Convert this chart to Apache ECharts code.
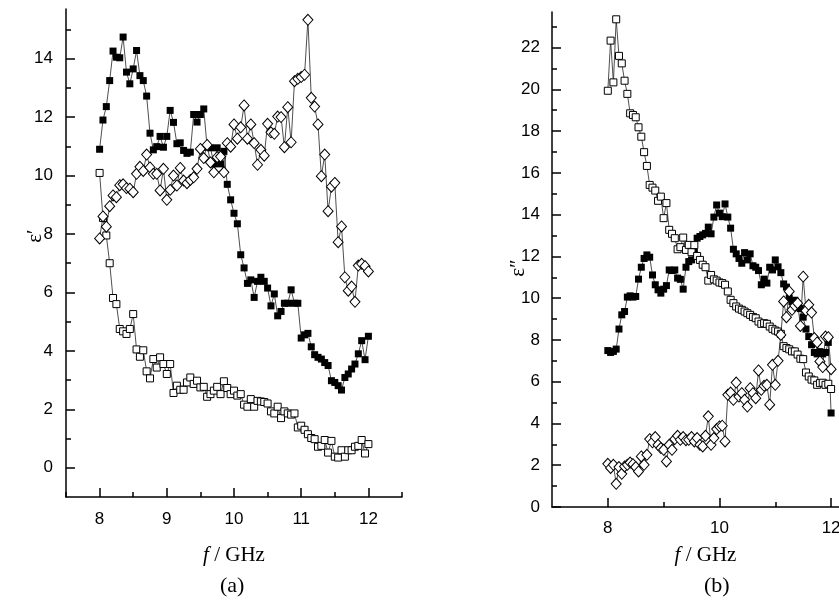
<!DOCTYPE html>
<html>
<head>
<meta charset="utf-8">
<script src="https://cdn.jsdelivr.net/npm/echarts@6/dist/echarts.min.js"></script>
<style>
  html, body { margin: 0; padding: 0; background: #fff; }
  #chart { width: 839px; height: 605px; }
</style>
</head>
<body>
<div id="chart"></div>
<script>
// frequency points (GHz)
const freq = [
  8.00, 8.05, 8.10, 8.15, 8.20, 8.25, 8.30, 8.35, 8.40, 8.45,
  8.50, 8.55, 8.60, 8.65, 8.70, 8.75, 8.80, 8.85, 8.90, 8.95,
  9.00, 9.05, 9.10, 9.15, 9.20, 9.25, 9.30, 9.35, 9.40, 9.45,
  9.50, 9.55, 9.60, 9.65, 9.70, 9.75, 9.80, 9.85, 9.90, 9.95,
  10.00, 10.05, 10.10, 10.15, 10.20, 10.25, 10.30, 10.35, 10.40, 10.45,
  10.50, 10.55, 10.60, 10.65, 10.70, 10.75, 10.80, 10.85, 10.90, 10.95,
  11.00, 11.05, 11.10, 11.15, 11.20, 11.25, 11.30, 11.35, 11.40, 11.45,
  11.50, 11.55, 11.60, 11.65, 11.70, 11.75, 11.80, 11.85, 11.90, 11.95, 12.00
];

// (a) real part
const epsRealFilled = [
  10.90, 11.90, 12.36, 13.25, 14.26, 14.05, 14.03, 14.74, 13.54, 13.14,
  13.65, 14.28, 13.42, 13.25, 12.72, 11.45, 10.88, 10.99, 11.34, 10.97,
  11.34, 12.23, 11.82, 11.09, 11.12, 10.86, 10.76, 10.80, 12.09, 11.83,
  12.09, 12.28, 10.97, 10.95, 10.40, 10.95, 10.40, 10.83, 9.70, 9.17,
  8.71, 8.35, 7.29, 6.84, 6.31, 6.43, 5.83, 6.38, 6.52, 6.38,
  6.15, 5.54, 5.95, 5.20, 5.35, 5.63, 5.63, 6.09, 5.63, 5.63,
  4.44, 4.55, 4.60, 4.14, 3.87, 3.78, 3.72, 3.60, 3.50, 2.98,
  2.92, 2.81, 2.66, 3.09, 3.21, 3.38, 3.55, 3.90, 4.35, 3.70, 4.50
];
const epsRealOpenSq = [
  10.09, 8.55, 7.95, 7.00, 5.81, 5.60, 4.75, 4.67, 4.58, 4.75,
  5.26, 4.05, 3.80, 4.02, 3.30, 3.06, 3.72, 3.43, 3.78, 3.55,
  3.21, 3.55, 2.56, 2.81, 2.67, 2.67, 2.92, 3.09, 2.87, 2.98,
  2.75, 2.77, 2.43, 2.52, 2.64, 2.77, 2.52, 2.96, 2.73, 2.52,
  2.64, 2.47, 2.52, 2.16, 2.09, 2.35, 2.09, 2.29, 2.27, 2.25,
  2.20, 1.93, 1.86, 2.09, 1.70, 1.93, 1.86, 1.82, 1.86, 1.38,
  1.44, 1.30, 1.15, 1.02, 0.98, 0.72, 0.75, 0.95, 0.52, 0.92,
  0.38, 0.35, 0.60, 0.38, 0.60, 0.60, 0.72, 0.75, 0.95, 0.49, 0.81
];
const epsRealDiamond = [
  7.85, 8.60, 8.25, 8.95, 9.32, 9.26, 9.67, 9.70, 9.57, 9.55,
  9.43, 10.06, 10.30, 10.16, 10.72, 10.28, 10.06, 10.06, 9.49, 10.23,
  9.17, 9.51, 10.00, 9.66, 10.26, 9.83, 9.74, 9.85, 9.94, 10.23,
  10.91, 10.60, 11.05, 10.45, 10.11, 10.63, 10.65, 10.11, 11.11, 10.99,
  11.75, 11.26, 11.65, 12.40, 11.26, 11.75, 11.11, 10.37, 10.88, 10.68,
  11.77, 11.48, 11.43, 12.02, 12.00, 10.97, 12.34, 11.14, 13.23, 13.31,
  13.37, 13.45, 15.33, 12.66, 12.36, 11.75, 9.98, 10.72, 8.78, 9.62,
  9.75, 7.72, 8.26, 6.52, 6.06, 6.20, 5.68, 6.92, 6.98, 6.90, 6.72
];

// (b) imaginary part
const epsImagFilled = [
  7.49, 7.40, 7.45, 7.56, 8.52, 9.20, 9.36, 10.05, 10.11, 10.05,
  10.08, 10.91, 11.48, 11.90, 12.07, 11.96, 11.11, 10.64, 10.40, 10.24,
  10.43, 10.60, 11.35, 11.32, 11.35, 10.96, 10.90, 10.43, 11.48, 11.75,
  11.83, 12.20, 12.87, 12.95, 13.03, 13.10, 13.40, 13.08, 13.88, 14.46,
  14.07, 13.90, 14.51, 13.88, 13.35, 12.34, 12.12, 11.90, 11.67, 12.18,
  11.83, 12.12, 11.55, 11.48, 11.32, 10.64, 10.91, 10.72, 11.48, 11.35,
  11.83, 11.50, 11.22, 10.68, 10.53, 10.00, 9.84, 9.90, 9.60, 9.50,
  9.09, 8.52, 8.16, 7.77, 7.40, 7.33, 7.44, 7.33, 7.40, 7.88, 4.50
];
const epsImagOpenSq = [
  19.93, 22.33, 20.33, 23.35, 21.60, 21.24, 20.41, 19.78, 18.85, 18.77,
  18.66, 18.18, 17.73, 16.99, 16.33, 15.42, 15.29, 15.15, 14.66, 14.86,
  13.83, 14.55, 13.27, 13.08, 12.87, 12.34, 12.44, 12.90, 12.31, 12.55,
  12.20, 12.54, 12.02, 11.83, 11.60, 11.48, 10.84, 11.11, 10.90, 10.84,
  10.75, 10.72, 10.64, 10.32, 9.92, 9.76, 9.60, 9.50, 9.44, 9.36,
  9.28, 9.20, 9.10, 9.04, 8.88, 8.77, 8.80, 8.77, 8.64, 8.53,
  8.45, 8.40, 8.29, 7.70, 7.61, 7.55, 7.45, 7.45, 7.30, 7.10,
  7.08, 6.44, 6.25, 6.10, 6.06, 5.85, 5.93, 5.95, 5.85, 5.90, 5.65
];
const epsImagDiamond = [
  2.07, 1.87, 2.02, 1.11, 1.91, 1.59, 1.94, 2.02, 2.13, 2.05,
  1.91, 1.70, 2.42, 2.02, 2.50, 3.25, 3.10, 3.35, 2.98, 2.82,
  2.74, 2.18, 2.98, 2.74, 3.25, 3.41, 3.22, 3.35, 3.20, 3.22,
  3.35, 3.14, 3.30, 2.98, 2.90, 3.41, 4.34, 2.98, 3.30, 3.73,
  3.86, 3.89, 3.14, 5.37, 5.48, 5.13, 5.96, 5.29, 5.45, 5.13,
  4.81, 5.69, 5.45, 5.21, 6.54, 5.61, 5.80, 5.85, 4.90, 6.81,
  5.85, 7.00, 8.24, 9.84, 9.09, 10.32, 9.44, 9.63, 9.76, 8.67,
  11.03, 9.40, 9.68, 9.31, 8.09, 7.88, 6.97, 6.70, 8.16, 8.13, 6.60
];

// tick values
const aXMajor = [8, 9, 10, 11, 12];
const aXMinor = [7.5, 8.5, 9.5, 10.5, 11.5, 12.5];
const aYMajor = [0, 2, 4, 6, 8, 10, 12, 14];
const aYMinor = [1, 3, 5, 7, 9, 11, 13, 15];
const bXMajor = [8, 10, 12];
const bXMinor = [9, 11];
const bYMajor = [0, 2, 4, 6, 8, 10, 12, 14, 16, 18, 20, 22];
const bYMinor = [1, 3, 5, 7, 9, 11, 13, 15, 17, 19, 21, 23];

const numFont = "'Liberation Sans', Arial, sans-serif";
const serifFont = "'Liberation Serif', 'Times New Roman', serif";

const toPairs = (ys) => freq.map((f, i) => [f, ys[i]]);

const mainAxis = (opt) => ({
  gridIndex: opt.grid,
  type: "value",
  position: opt.position,
  min: opt.min,
  max: opt.max,
  axisLine: { show: true, onZero: false, lineStyle: { color: "#000", width: 1.5 } },
  axisTick: { show: true, inside: true, length: 5, customValues: opt.minor, lineStyle: { color: "#000", width: 1.5 } },
  axisLabel: {
    show: true,
    customValues: opt.major,
    margin: opt.margin,
    color: "#000",
    fontSize: 17,
    fontFamily: numFont,
  },
  splitLine: { show: false },
  name: opt.name,
  nameLocation: "middle",
  nameGap: opt.nameGap,
  nameMoveOverlap: false,
  nameTextStyle: opt.nameStyle,
});

// second axis on the same grid, only for the longer major ticks
const majorAxis = (opt) => ({
  gridIndex: opt.grid,
  type: "value",
  position: opt.position,
  min: opt.min,
  max: opt.max,
  axisLine: { show: false, onZero: false },
  axisTick: { show: true, inside: true, length: 9, customValues: opt.major, lineStyle: { color: "#000", width: 1.5 } },
  axisLabel: { show: false },
  splitLine: { show: false },
});

const xNameStyle = {
  fontFamily: serifFont,
  fontSize: 21,
  color: "#000",
  rich: { i: { fontFamily: serifFont, fontSize: 21, fontStyle: "italic", color: "#000" } },
};

const seriesStyle = {
  filled: { symbol: "rect", symbolSize: 7, itemStyle: { color: "#000", borderColor: "#000", borderWidth: 0 } },
  openSq: { symbol: "rect", symbolSize: 7, itemStyle: { color: "#fff", borderColor: "#000", borderWidth: 1 } },
  diamond: { symbol: "diamond", symbolSize: [10, 11], itemStyle: { color: "#fff", borderColor: "#000", borderWidth: 1 } },
};

const makeSeries = (name, data, kind, axisIndex) => ({
  name,
  type: "line",
  xAxisIndex: axisIndex,
  yAxisIndex: axisIndex,
  data: toPairs(data),
  showSymbol: true,
  symbol: seriesStyle[kind].symbol,
  symbolSize: seriesStyle[kind].symbolSize,
  itemStyle: seriesStyle[kind].itemStyle,
  lineStyle: { color: "#222", width: 0.8 },
  emphasis: { disabled: true },
  animation: false,
  z: 2,
});

const chart = echarts.init(document.getElementById("chart"), null, { renderer: "canvas" });

chart.setOption({
  backgroundColor: "#fff",
  animation: false,
  grid: [
    { left: 66, top: 9, width: 336, height: 488, outerBoundsMode: "none", containLabel: false },
    { left: 552, top: 12, width: 307, height: 495, outerBoundsMode: "none", containLabel: false },
  ],
  xAxis: [
    mainAxis({ grid: 0, position: "bottom", min: 7.5, max: 12.5, major: aXMajor, minor: aXMinor, margin: 14,
      name: "{i|f} / GHz", nameGap: 48, nameStyle: xNameStyle }),
    majorAxis({ grid: 0, position: "bottom", min: 7.5, max: 12.5, major: aXMajor }),
    mainAxis({ grid: 1, position: "bottom", min: 7, max: 12.5, major: bXMajor, minor: bXMinor, margin: 13,
      name: "{i|f} / GHz", nameGap: 38, nameStyle: xNameStyle }),
    majorAxis({ grid: 1, position: "bottom", min: 7, max: 12.5, major: bXMajor }),
  ],
  yAxis: [
    mainAxis({ grid: 0, position: "left", min: -1, max: 15.7, major: aYMajor, minor: aYMinor, margin: 13 }),
    majorAxis({ grid: 0, position: "left", min: -1, max: 15.7, major: aYMajor }),
    mainAxis({ grid: 1, position: "left", min: 0, max: 23.7, major: bYMajor, minor: bYMinor, margin: 12 }),
    majorAxis({ grid: 1, position: "left", min: 0, max: 23.7, major: bYMajor }),
  ],
  graphic: [
    { type: "text", x: 35, y: 236, rotation: Math.PI / 2,
      style: { text: "\u03b5\u2032", font: `21px ${serifFont}`, fill: "#000", align: "center", verticalAlign: "middle" } },
    { type: "text", x: 518, y: 268, rotation: Math.PI / 2,
      style: { text: "\u03b5\u2033", font: `21px ${serifFont}`, fill: "#000", align: "center", verticalAlign: "middle" } },
    { type: "text", left: 220, top: 575, style: { text: "(a)", font: `22px ${serifFont}`, fill: "#000" } },
    { type: "text", left: 704, top: 575, style: { text: "(b)", font: `22px ${serifFont}`, fill: "#000" } },
  ],
  series: [
    makeSeries("a-filled", epsRealFilled, "filled", 0),
    makeSeries("a-open-square", epsRealOpenSq, "openSq", 0),
    makeSeries("a-diamond", epsRealDiamond, "diamond", 0),
    makeSeries("b-filled", epsImagFilled, "filled", 2),
    makeSeries("b-open-square", epsImagOpenSq, "openSq", 2),
    makeSeries("b-diamond", epsImagDiamond, "diamond", 2),
  ],
});
</script>
</body>
</html>
